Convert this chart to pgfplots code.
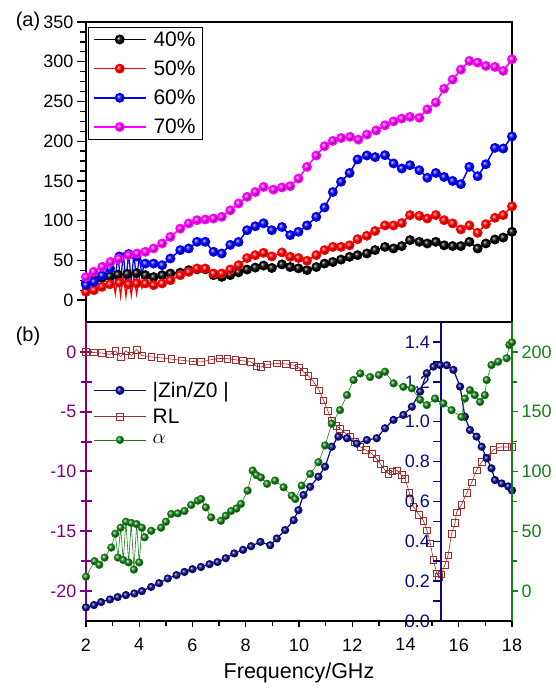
\documentclass[border=0pt]{standalone}
\usepackage{fontspec}
\setmainfont{Liberation Sans}
\usepackage{pgfplots}
\pgfplotsset{compat=1.18}
\definecolor{rlpurple}{RGB}{128,0,128}
\definecolor{znavy}{RGB}{10,10,130}
\definecolor{agreen}{RGB}{20,130,20}
\definecolor{rlred}{RGB}{160,45,45}
\definecolor{mag}{RGB}{255,0,255}
\begin{document}
\begin{tikzpicture}[x=1pt,y=1pt]
\path[use as bounding box] (0,0) rectangle (556,688);
\pgfplotsset{
  myleg/.style={legend image code/.code={\draw[##1,mark repeat=2,mark phase=2] plot coordinates {(0pt,0pt) (26pt,0pt) (52pt,0pt)};}},
}
% ---------------- top panel ----------------
\begin{axis}[at={(86pt,366pt)}, anchor=south west, scale only axis, width=426pt, height=300pt,
  xmin=2, xmax=18, ymin=-27.5, ymax=350,
  xtick=\empty, ytick={0,50,...,350}, minor y tick num=3,
  ytick pos=left, tick align=outside, major tick length=9pt, minor tick length=6pt,
  axis line style={line width=2pt},
  every tick/.style={black, line width=1.3pt},
  tick label style={font=\fontsize{18}{20}\selectfont},
  /pgf/number format/assume math mode=true,
  myleg,
  legend style={at={(0.004,0.983)}, anchor=north west, draw=black, line width=0.6pt,
    font=\fontsize{21}{24}\selectfont, inner xsep=5pt, inner ysep=2pt, row sep=9pt, cells={anchor=west},
    /tikz/every odd column/.style={column sep=5pt}},
  legend cell align=left,
]
\addplot[black, line width=1.5pt, mark=ball, mark options={ball color=black}, mark size=4.2pt] coordinates {
(2.0,22)(2.3,25)(2.6,28)(2.9,30)(3.2,32)(3.55,33)(3.9,34)(4.23,31.4)(4.54,29)(4.86,31.4)(5.17,33.5)(5.54,34.6)(5.86,37.7)(6.17,38.8)(6.48,38.8)(6.79,31.4)(7.1,29.3)(7.42,31.5)(7.73,35)(8.05,38.5)(8.36,41)(8.67,43.5)(8.98,40.5)(9.36,45)(9.67,41.7)(9.98,40)(10.3,37.7)(10.65,41.7)(10.96,46)(11.27,48)(11.58,51)(11.9,54.5)(12.2,56.6)(12.55,58.7)(12.86,63)(13.23,67)(13.55,65)(13.86,68)(14.17,75.5)(14.52,73.4)(14.82,71.3)(15.14,73.4)(15.45,69)(15.77,68)(16.08,68)(16.4,73.4)(16.71,65)(17.02,71.3)(17.36,76.3)(17.67,78.8)(18.0,86)};
\addlegendentry{40\%}
\addplot[red, line width=1.5pt, mark=ball, mark options={ball color=red}, mark size=4.2pt] coordinates {
(2.0,10.5)(2.3,12.6)(2.6,16.8)(2.9,20)(3.25,22)(3.6,20)(3.9,21)(4.23,21)(4.54,18.9)(4.86,21)(5.17,25)(5.54,31.4)(5.86,35.6)(6.17,39.8)(6.48,39.8)(6.79,33.5)(7.1,33.5)(7.42,38.5)(7.73,44)(8.05,53)(8.36,56.6)(8.67,59.5)(8.98,55)(9.36,60)(9.67,54.5)(9.98,53)(10.3,49.5)(10.65,56.6)(10.96,63)(11.27,67)(11.58,67)(11.9,69)(12.2,76.7)(12.55,81)(12.86,87)(13.23,94)(13.55,94)(13.86,97)(14.17,107)(14.52,106)(14.82,102.7)(15.14,107)(15.45,100.6)(15.77,96.5)(16.08,89)(16.4,94)(16.71,84.7)(17.02,95.6)(17.36,103.6)(17.67,107)(18.0,118)};
\addlegendentry{50\%}
\addplot[blue, line width=1.5pt, mark=ball, mark options={ball color=blue}, mark size=4.2pt] coordinates {
(2.0,19)(2.3,23)(2.6,31)(2.9,40)(3.25,55)(3.6,58)(3.9,55)(4.23,46)(4.54,46)(4.86,44)(5.17,52.4)(5.54,63)(5.86,65)(6.17,73.4)(6.48,73.4)(6.79,60.8)(7.1,58.7)(7.42,69.5)(7.73,73.2)(8.05,88)(8.36,93)(8.67,96.7)(8.98,88)(9.36,92)(9.67,81.8)(9.98,86)(10.3,94)(10.65,104.8)(10.96,116.6)(11.27,136)(11.58,149)(11.9,160)(12.2,177)(12.55,182)(12.86,180)(13.23,182.4)(13.55,172)(13.86,165.6)(14.17,169.8)(14.52,163.5)(14.82,154)(15.14,160)(15.45,155)(15.77,150)(16.08,146)(16.4,167.7)(16.71,156)(17.02,171)(17.36,191.6)(17.67,190.8)(18.0,206)};
\addlegendentry{60\%}
\addplot[mag, line width=1.5pt, mark=ball, mark options={ball color=mag}, mark size=4.2pt] coordinates {
(2.0,29)(2.29,35.6)(2.61,41.9)(2.92,48)(3.23,52)(3.6,56.6)(3.92,58.7)(4.23,60.8)(4.54,65)(4.86,71.3)(5.17,79.6)(5.54,90)(5.86,96.5)(6.17,100.6)(6.48,101.5)(6.79,102.7)(7.1,104.8)(7.42,113)(7.73,121.6)(8.05,130)(8.36,136)(8.67,142.5)(9.04,139)(9.36,141.8)(9.67,143.4)(9.98,153)(10.3,167.7)(10.65,182)(10.96,193.7)(11.27,200.4)(11.58,204)(11.92,205.5)(12.23,202)(12.55,208.4)(12.9,213.5)(13.23,220)(13.55,225)(13.86,228.5)(14.17,230.6)(14.52,229.4)(14.82,240)(15.14,248.7)(15.45,266)(15.77,277.6)(16.08,290)(16.4,301)(16.71,299)(17.02,294.7)(17.36,293.5)(17.67,288.5)(18.0,303)};
\addlegendentry{70\%}
% oscillations
\addplot[forget plot, blue, line width=1.3pt] coordinates {
(2.9,40)(3.0,50)(3.1,25)(3.2,58)(3.3,22)(3.4,60)(3.5,22)(3.6,60)(3.7,24)(3.8,58)(3.9,25)(4.0,56)(4.1,30)(4.2,50)(4.3,46)};
\addplot[forget plot, red, line width=1.3pt] coordinates {
(2.9,20)(3.0,30)(3.1,8)(3.2,32)(3.3,5)(3.4,33)(3.5,5)(3.6,32)(3.7,6)(3.8,30)(3.9,8)(4.0,28)(4.1,15)(4.2,22)};
\end{axis}
% ---------------- bottom panel: RL ----------------
\begin{axis}[at={(86pt,67pt)}, anchor=south west, scale only axis, width=426pt, height=299pt,
  xmin=2, xmax=18, ymin=-22.5, ymax=2.5,
  axis x line=none, axis y line*=left,
  ytick={-20,-15,-10,-5,0}, minor y tick num=1,
  ytick align=center,
  major tick length=12pt, minor tick length=11pt,
  y axis line style={rlpurple, line width=2.5pt},
  every y tick/.append style={rlpurple, line width=2pt},
  tick label style={font=\fontsize{18}{20}\selectfont},
  yticklabel style={rlpurple},
  /pgf/number format/assume math mode=true,
]
\addplot[rlred, line width=0.6pt, mark=square, mark size=3.3pt, mark options={solid}] coordinates {
(2.0,0.0)(2.3,-0.05)(2.6,-0.1)(2.9,-0.2)(3.1,0.1)(3.3,-0.4)(3.5,0.1)(3.7,-0.3)(3.9,0.2)(4.1,-0.3)(4.45,-0.42)(4.8,-0.5)(5.2,-0.6)(5.6,-0.7)(6.0,-0.8)(6.32,-0.84)(6.7,-0.65)(7.0,-0.55)(7.3,-0.56)(7.6,-0.65)(7.9,-0.75)(8.2,-0.84)(8.4,-1.2)(8.57,-1.26)(8.8,-1.05)(9.17,-0.97)(9.5,-1.0)(9.8,-1.11)(10.0,-1.3)(10.17,-1.67)(10.35,-2.0)(10.55,-2.5)(10.75,-3.2)(10.92,-4.04)(11.08,-4.9)(11.23,-5.72)(11.4,-6.2)(11.54,-6.41)(11.75,-6.8)(11.92,-7.11)(12.1,-7.5)(12.3,-7.95)(12.5,-8.2)(12.73,-8.5)(12.9,-8.9)(13.05,-9.34)(13.2,-9.8)(13.36,-10.18)(13.5,-10.0)(13.67,-9.9)(13.85,-10.3)(13.98,-10.6)(14.15,-11.8)(14.3,-12.97)(14.5,-13.6)(14.67,-14.1)(14.8,-14.9)(14.93,-16.0)(15.05,-17.4)(15.17,-18.5)(15.25,-18.8)(15.35,-18.6)(15.48,-17.8)(15.6,-17.0)(15.73,-15.2)(15.86,-14.3)(15.92,-13.4)(16.1,-12.8)(16.3,-11.8)(16.49,-10.9)(16.67,-9.9)(16.86,-9.2)(17.05,-8.8)(17.3,-8.2)(17.55,-7.95)(17.8,-7.95)(18.0,-7.95)};
\end{axis}
% ---------------- bottom panel: |Zin/Z0| ----------------
\begin{axis}[at={(441.44pt,67pt)}, anchor=south west, scale only axis, width=70.56pt, height=299pt,
  xmin=15.35, xmax=18, ymin=0, ymax=1.5, clip=false,
  axis x line=none, axis y line*=left,
  ytick={0,0.2,0.4,0.6,0.8,1.0,1.2,1.4}, minor y tick num=1, ytick align=outside,
  major tick length=8pt, minor tick length=8pt,
  y axis line style={znavy, line width=2pt},
  every y tick/.append style={znavy, line width=1.5pt},
  tick label style={font=\fontsize{18}{20}\selectfont},
  yticklabel style={znavy, /pgf/number format/.cd, fixed, fixed zerofill, precision=1},
  /pgf/number format/assume math mode=true,
]
\addplot[znavy, line width=1.2pt, mark=ball, mark options={ball color=znavy}, mark size=3.5pt] coordinates {
(2.0,0.068)(2.3,0.08)(2.57,0.095)(2.9,0.108)(3.19,0.12)(3.5,0.13)(3.82,0.138)(4.1,0.15)(4.45,0.171)(4.75,0.19)(5.07,0.213)(5.4,0.23)(5.7,0.246)(6.0,0.26)(6.32,0.271)(6.64,0.285)(6.94,0.296)(7.25,0.315)(7.57,0.339)(7.9,0.357)(8.2,0.375)(8.55,0.397)(8.92,0.38)(9.17,0.414)(9.48,0.456)(9.8,0.506)(9.98,0.556)(10.17,0.632)(10.42,0.673)(10.73,0.724)(10.98,0.774)(11.23,0.874)(11.48,0.925)(11.8,0.917)(12.17,0.89)(12.55,0.908)(12.92,0.917)(13.23,0.967)(13.55,1.009)(13.92,1.034)(14.24,1.075)(14.55,1.151)(14.8,1.243)(15.05,1.276)(15.3,1.284)(15.55,1.283)(15.8,1.26)(16.05,1.176)(16.23,1.025)(16.42,0.958)(16.67,0.925)(16.86,0.874)(17.05,0.816)(17.23,0.766)(17.36,0.707)(17.61,0.69)(17.86,0.675)(18.0,0.655)};
\end{axis}
% ---------------- bottom panel: alpha + x axis ----------------
\begin{axis}[at={(86pt,67pt)}, anchor=south west, scale only axis, width=426pt, height=299pt,
  xmin=2, xmax=18, ymin=-25, ymax=225,
  axis x line*=bottom, axis y line*=right,
  xtick={2,4,...,18}, minor x tick num=1,
  ytick={0,50,...,200}, minor y tick num=1, tick align=outside,
  major tick length=6pt, minor tick length=5pt,
  x axis line style={black, line width=2pt},
  y axis line style={agreen, line width=2pt},
  every x tick/.append style={black, line width=1.3pt},
  every y tick/.append style={agreen, line width=1.5pt},
  tick label style={font=\fontsize{18}{20}\selectfont},
  xticklabel style={yshift=-8pt},
  yticklabel style={agreen},
  /pgf/number format/assume math mode=true,
  xlabel={Frequency/GHz}, xlabel style={font=\fontsize{21.5}{23}\selectfont, yshift=-5pt},
  myleg,
  legend style={at={(0.014,0.81)}, anchor=north west, draw=none, fill=none,
    font=\fontsize{21}{24}\selectfont, inner sep=1pt, row sep=6pt, cells={anchor=west},
    /tikz/every odd column/.style={column sep=4pt}},
  legend cell align=left,
]
\addlegendimage{znavy, line width=1.5pt, mark=ball, mark options={ball color=znavy}, mark size=3.8pt}
\addlegendentry{|Zin/Z0 |}
\addlegendimage{rlred, line width=0.6pt, mark=square, mark size=3.8pt, mark options={solid}}
\addlegendentry{RL}
\addplot[agreen, line width=0.6pt, mark=ball, mark options={ball color=agreen}, mark size=3.8pt] coordinates {
(2.0,12)(2.32,25)(2.5,22)(2.7,28)(2.95,36.4)(3.1,48)(3.2,28)(3.3,53)(3.4,26)(3.5,58)(3.6,24)(3.7,57)(3.8,18)(3.9,56)(4.0,24)(4.1,53)(4.2,45)(4.45,50.4)(4.82,53)(5.0,58)(5.2,64.5)(5.45,65)(5.7,67)(5.95,72)(6.2,75.6)(6.32,77)(6.5,70)(6.7,61.6)(7.07,58.8)(7.25,63)(7.45,67)(7.65,69)(7.82,72.9)(8.07,84)(8.26,100.8)(8.4,97)(8.57,95)(8.8,89.7)(9.1,92.4)(9.42,86.8)(9.73,79.8)(9.86,77)(10.1,88.2)(10.42,98)(10.73,107.8)(10.98,121.8)(11.23,140)(11.54,151.3)(11.8,163.9)(12.05,176.5)(12.3,182)(12.67,179)(13.0,180.7)(13.23,183.4)(13.55,173.7)(13.92,170.8)(14.24,169.5)(14.55,160)(14.8,155.5)(15.11,161)(15.42,156.9)(15.73,151.3)(16.1,145.6)(16.23,161)(16.42,168)(16.6,163.9)(16.8,158.2)(16.98,163.9)(17.05,176.5)(17.23,189)(17.48,191.8)(17.8,194.7)(17.9,205.9)(18.0,208)};
\addlegendentry{$\alpha$}
\end{axis}
\node[font=\fontsize{20}{22}\selectfont] at (28,667) {(a)};
\node[font=\fontsize{20}{22}\selectfont] at (28,352) {(b)};
\end{tikzpicture}
\end{document}
